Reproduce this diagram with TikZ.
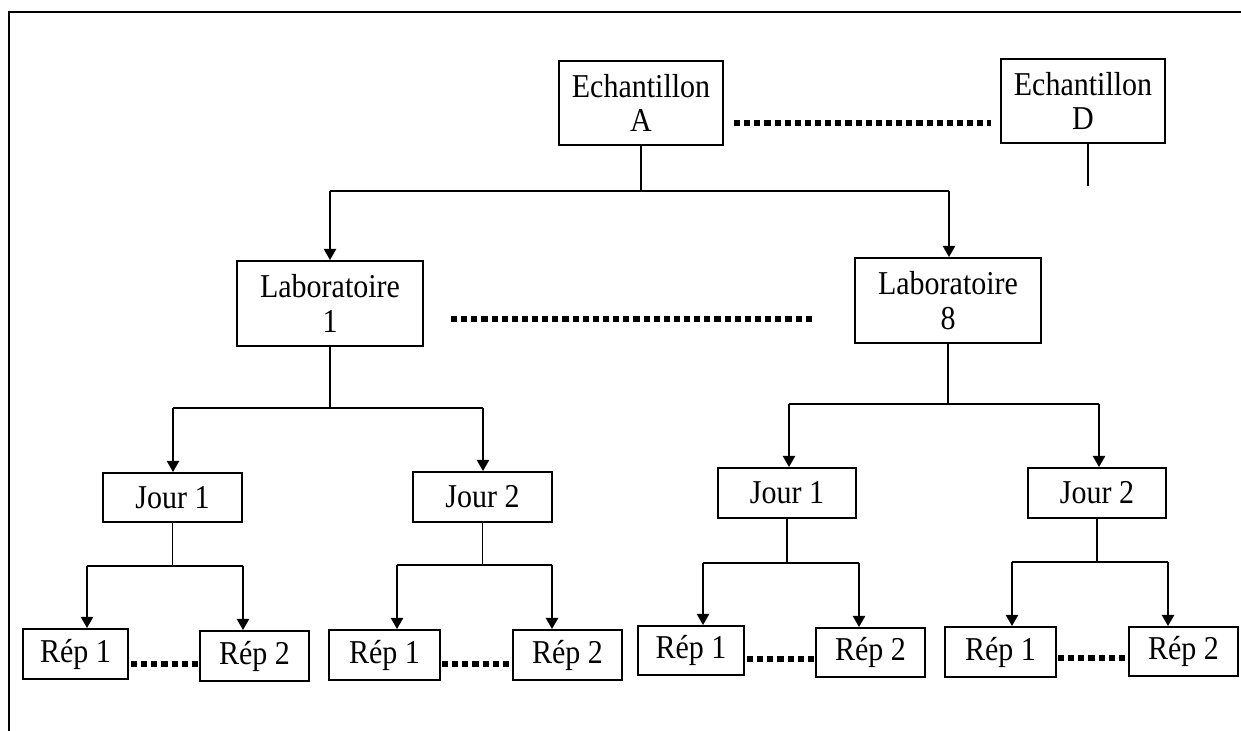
\documentclass[tikz,border=0pt]{standalone}
\usepackage{fontspec}
\setmainfont[FakeStretch=0.9]{Liberation Serif}
\usetikzlibrary{arrows.meta}
\begin{document}
\begin{tikzpicture}[x=0.75pt,y=-0.75pt,
  box/.style={draw,line width=1.3pt,inner sep=0pt,align=center,
    font=\fontsize{25}{26}\selectfont},
  sz/.style 2 args={minimum width=#1*0.75pt,minimum height=#2*0.75pt},
  stem/.style={line width=1.4pt},
  bar/.style={line width=1.8pt},
  arr/.style={line width=2.1pt,-{Triangle[length=8.5pt,width=9pt]}},
  dots/.style={line width=4pt,dash pattern=on 4.6pt off 3pt},
  frame/.style={line width=2.2pt}]
\useasboundingbox (0,0) rectangle (1241,731);
\clip (0,0) rectangle (1241,731);
% frame
\coordinate (fb) at (9,745);
\coordinate (fc) at (9,12);
\coordinate (fr) at (1255,12);
\draw[frame] (fb) -- (fc) -- (fr);
% nodes
\node[box,sz={164}{84}] (A) at (641,103) {Echantillon\\A};
\node[box,sz={164}{84}] (D) at (1083,101) {Echantillon\\D};
\node[box,sz={186}{85}] (L1) at (330,303.5) {Laboratoire\\1};
\node[box,sz={186}{85}] (L8) at (948,300.5) {Laboratoire\\8};
\node[box,sz={139}{49}] (J1) at (172.5,497.5) {Jour 1};
\node[box,sz={139}{50}] (J2) at (482.5,497) {Jour 2};
\node[box,sz={138}{50}] (J3) at (787,493) {Jour 1};
\node[box,sz={138}{50}] (J4) at (1097,493) {Jour 2};
\node[box,sz={105}{50}] (R1) at (75.5,654) {Rép 1};
\node[box,sz={109}{50}] (R2) at (254.5,656) {Rép 2};
\node[box,sz={111}{50}] (R3) at (384.5,655) {Rép 1};
\node[box,sz={109}{50}] (R4) at (567.5,655) {Rép 2};
\node[box,sz={106}{49}] (R5) at (691,650.5) {Rép 1};
\node[box,sz={109}{49}] (R6) at (870.5,652.5) {Rép 2};
\node[box,sz={111}{50}] (R7) at (1000.5,652) {Rép 1};
\node[box,sz={109}{49}] (R8) at (1183.5,651.5) {Rép 2};
% level 1
\coordinate (a1) at (330,191);
\coordinate (a2) at (949,191);
\draw[stem] (A.south) -- (A.south |- a1);
\draw[bar] (a1) -- (a2);
\draw[arr] (a1) -- (a1 |- L1.north);
\draw[arr] (a2) -- (a2 |- L8.north);
\coordinate (dd) at (1088,186);
\draw[stem] (dd |- D.south) -- (dd);
% level 2
\coordinate (l1a) at (173,408);
\coordinate (l1b) at (483,408);
\draw[stem] (L1.south) -- (L1.south |- l1a);
\draw[bar] (l1a) -- (l1b);
\draw[arr] (l1a) -- (l1a |- J1.north);
\draw[arr] (l1b) -- (l1b |- J2.north);
\coordinate (l8a) at (789,404);
\coordinate (l8b) at (1099,404);
\draw[stem] (L8.south) -- (L8.south |- l8a);
\draw[bar] (l8a) -- (l8b);
\draw[arr] (l8a) -- (l8a |- J3.north);
\draw[arr] (l8b) -- (l8b |- J4.north);
% level 3
\coordinate (j1a) at (87,566);
\coordinate (j1b) at (243,566);
\draw[stem] (J1.south) -- (J1.south |- j1a);
\draw[bar] (j1a) -- (j1b);
\draw[arr] (j1a) -- (j1a |- R1.north);
\draw[arr] (j1b) -- (j1b |- R2.north);
\coordinate (j2a) at (397,565);
\coordinate (j2b) at (552,565);
\draw[stem] (J2.south) -- (J2.south |- j2a);
\draw[bar] (j2a) -- (j2b);
\draw[arr] (j2a) -- (j2a |- R3.north);
\draw[arr] (j2b) -- (j2b |- R4.north);
\coordinate (j3a) at (703,563);
\coordinate (j3b) at (859,563);
\draw[stem] (J3.south) -- (J3.south |- j3a);
\draw[bar] (j3a) -- (j3b);
\draw[arr] (j3a) -- (j3a |- R5.north);
\draw[arr] (j3b) -- (j3b |- R6.north);
\coordinate (j4a) at (1012,562);
\coordinate (j4b) at (1168,562);
\draw[stem] (J4.south) -- (J4.south |- j4a);
\draw[bar] (j4a) -- (j4b);
\draw[arr] (j4a) -- (j4a |- R7.north);
\draw[arr] (j4b) -- (j4b |- R8.north);
% dotted lines
\coordinate (dA1) at (734,123);
\coordinate (dA2) at (991,123);
\draw[dots] (dA1) -- (dA2);
\coordinate (dL1) at (451,319);
\coordinate (dL2) at (812,319);
\draw[dots] (dL1) -- (dL2);
\coordinate (d1) at (131,664);
\draw[dots] (d1) -- (d1 -| R2.west);
\coordinate (d2) at (442,664);
\draw[dots] (d2) -- (d2 -| R4.west);
\coordinate (d3) at (747,659);
\draw[dots] (d3) -- (d3 -| R6.west);
\coordinate (d4) at (1058,658);
\draw[dots] (d4) -- (d4 -| R8.west);
\end{tikzpicture}
\end{document}
